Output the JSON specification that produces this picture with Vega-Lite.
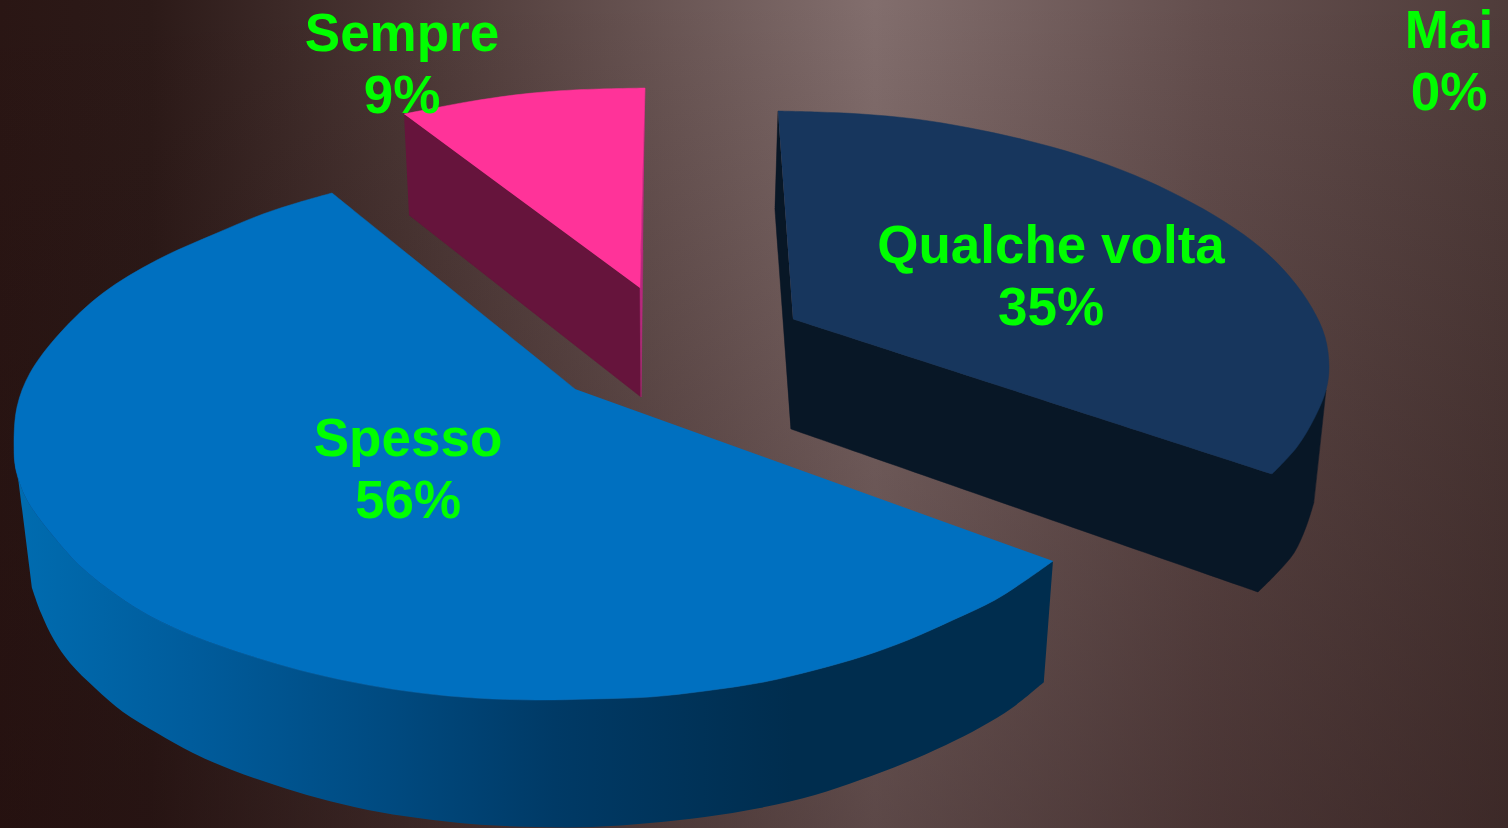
{"$schema":"https://vega.github.io/schema/vega-lite/v6.json","width":1508,"height":828,"padding":0,"autosize":{"type":"none"},"background":"#2a1614","view":{"stroke":null},
"datasets":{
"canvas":[{"x0":0,"x1":1508,"y0":0,"y1":828}],
"slices":[{"slice":"Spesso","percent":56,"lx":408,"ly":439.5},{"slice":"Qualche volta","percent":35,"lx":1051,"ly":246.5},{"slice":"Sempre","percent":9,"lx":402,"ly":34.5},{"slice":"Mai","percent":0,"lx":1449,"ly":31.5}],
"outline":[
{"p":"qside","i":0,"x":778,"y":111},{"p":"qside","i":1,"x":775,"y":210},{"p":"qside","i":1.5,"x":775,"y":210},{"p":"qside","i":2,"x":791,"y":429},{"p":"qside","i":2.5,"x":791,"y":429},{"p":"qside","i":3,"x":1258,"y":592},{"p":"qside","i":3.5,"x":1258,"y":592},{"p":"qside","i":4,"x":1277,"y":573},{"p":"qside","i":5,"x":1294,"y":553},{"p":"qside","i":6,"x":1306,"y":527},{"p":"qside","i":7,"x":1314,"y":502},{"p":"qside","i":7.5,"x":1314,"y":502},{"p":"qside","i":8,"x":1326,"y":390},{"p":"qside","i":8.5,"x":1326,"y":390},{"p":"qside","i":9,"x":1272,"y":474},{"p":"qside","i":9.5,"x":1272,"y":474},{"p":"qside","i":10,"x":793,"y":319},
{"p":"qtop","i":0,"x":778,"y":111},{"p":"qtop","i":1,"x":817,"y":112},{"p":"qtop","i":2,"x":861,"y":114},{"p":"qtop","i":3,"x":915,"y":119},{"p":"qtop","i":4,"x":970,"y":128},{"p":"qtop","i":5,"x":1025,"y":140},{"p":"qtop","i":6,"x":1079,"y":155},{"p":"qtop","i":7,"x":1134,"y":175},{"p":"qtop","i":8,"x":1181,"y":197},{"p":"qtop","i":9,"x":1225,"y":222},{"p":"qtop","i":10,"x":1261,"y":248},{"p":"qtop","i":11,"x":1290,"y":277},{"p":"qtop","i":12,"x":1312,"y":308},{"p":"qtop","i":13,"x":1325,"y":337},{"p":"qtop","i":14,"x":1329,"y":367},{"p":"qtop","i":15,"x":1326,"y":390},{"p":"qtop","i":16,"x":1315,"y":417},{"p":"qtop","i":17,"x":1297,"y":447},{"p":"qtop","i":18,"x":1272,"y":474},{"p":"qtop","i":18.5,"x":1272,"y":474},{"p":"qtop","i":19,"x":793,"y":319},
{"p":"sside","i":0,"x":404,"y":114},{"p":"sside","i":1,"x":640,"y":288},{"p":"sside","i":2,"x":641,"y":397},{"p":"sside","i":3,"x":409,"y":215},
{"p":"ssliver","i":0,"x":645,"y":88},{"p":"ssliver","i":1,"x":640,"y":288},{"p":"ssliver","i":2,"x":641,"y":397},{"p":"ssliver","i":3,"x":643,"y":250},
{"p":"stop","i":0,"x":404,"y":114},{"p":"stop","i":1,"x":440,"y":107},{"p":"stop","i":2,"x":473,"y":101},{"p":"stop","i":3,"x":523,"y":94},{"p":"stop","i":4,"x":573,"y":90},{"p":"stop","i":5,"x":645,"y":88},{"p":"stop","i":5.5,"x":645,"y":88},{"p":"stop","i":6,"x":640,"y":288},
{"p":"bside","i":0,"x":14,"y":445},{"p":"bside","i":1,"x":16,"y":470},{"p":"bside","i":2,"x":27,"y":500},{"p":"bside","i":3,"x":54,"y":537},{"p":"bside","i":4,"x":79,"y":565},{"p":"bside","i":5,"x":107,"y":588},{"p":"bside","i":6,"x":143,"y":612},{"p":"bside","i":7,"x":179,"y":630},{"p":"bside","i":8,"x":218,"y":645},{"p":"bside","i":9,"x":264,"y":660},{"p":"bside","i":10,"x":311,"y":673},{"p":"bside","i":11,"x":368,"y":685},{"p":"bside","i":12,"x":421,"y":693},{"p":"bside","i":13,"x":475,"y":698},{"p":"bside","i":14,"x":536,"y":700},{"p":"bside","i":15,"x":592,"y":699},{"p":"bside","i":16,"x":650,"y":697},{"p":"bside","i":17,"x":705,"y":691},{"p":"bside","i":18,"x":764,"y":682},{"p":"bside","i":19,"x":815,"y":670},{"p":"bside","i":20,"x":864,"y":656},{"p":"bside","i":21,"x":908,"y":640},{"p":"bside","i":22,"x":953,"y":620},{"p":"bside","i":23,"x":995,"y":600},{"p":"bside","i":24,"x":1029,"y":578},{"p":"bside","i":25,"x":1053,"y":561},{"p":"bside","i":25.5,"x":1053,"y":561},{"p":"bside","i":26,"x":1044,"y":682},{"p":"bside","i":26.5,"x":1044,"y":682},{"p":"bside","i":27,"x":1012,"y":708},{"p":"bside","i":28,"x":981,"y":727},{"p":"bside","i":29,"x":946,"y":745},{"p":"bside","i":30,"x":905,"y":763},{"p":"bside","i":31,"x":860,"y":780},{"p":"bside","i":32,"x":815,"y":795},{"p":"bside","i":33,"x":760,"y":808},{"p":"bside","i":34,"x":705,"y":817},{"p":"bside","i":35,"x":650,"y":823},{"p":"bside","i":36,"x":592,"y":827},{"p":"bside","i":37,"x":536,"y":827},{"p":"bside","i":38,"x":471,"y":824},{"p":"bside","i":39,"x":418,"y":818},{"p":"bside","i":40,"x":368,"y":810},{"p":"bside","i":41,"x":318,"y":798},{"p":"bside","i":42,"x":275,"y":785},{"p":"bside","i":43,"x":232,"y":770},{"p":"bside","i":44,"x":193,"y":753},{"p":"bside","i":45,"x":157,"y":733},{"p":"bside","i":46,"x":123,"y":712},{"p":"bside","i":47,"x":95,"y":688},{"p":"bside","i":48,"x":70,"y":663},{"p":"bside","i":49,"x":54,"y":640},{"p":"bside","i":50,"x":41,"y":613},{"p":"bside","i":51,"x":32,"y":588},{"p":"bside","i":51.5,"x":32,"y":588},{"p":"bside","i":53,"x":14,"y":445},
{"p":"btop","i":0,"x":575,"y":389},{"p":"btop","i":0.5,"x":575,"y":389},{"p":"btop","i":1,"x":332,"y":193},{"p":"btop","i":1.5,"x":332,"y":193},{"p":"btop","i":2,"x":300,"y":202},{"p":"btop","i":3,"x":263,"y":214},{"p":"btop","i":4,"x":217,"y":233},{"p":"btop","i":5,"x":157,"y":260},{"p":"btop","i":6,"x":103,"y":293},{"p":"btop","i":7,"x":60,"y":333},{"p":"btop","i":8,"x":30,"y":373},{"p":"btop","i":9,"x":17,"y":407},{"p":"btop","i":10,"x":14,"y":445},{"p":"btop","i":11,"x":16,"y":470},{"p":"btop","i":12,"x":27,"y":500},{"p":"btop","i":13,"x":54,"y":537},{"p":"btop","i":14,"x":79,"y":565},{"p":"btop","i":15,"x":107,"y":588},{"p":"btop","i":16,"x":143,"y":612},{"p":"btop","i":17,"x":179,"y":630},{"p":"btop","i":18,"x":218,"y":645},{"p":"btop","i":19,"x":264,"y":660},{"p":"btop","i":20,"x":311,"y":673},{"p":"btop","i":21,"x":368,"y":685},{"p":"btop","i":22,"x":421,"y":693},{"p":"btop","i":23,"x":475,"y":698},{"p":"btop","i":24,"x":536,"y":700},{"p":"btop","i":25,"x":592,"y":699},{"p":"btop","i":26,"x":650,"y":697},{"p":"btop","i":27,"x":705,"y":691},{"p":"btop","i":28,"x":764,"y":682},{"p":"btop","i":29,"x":815,"y":670},{"p":"btop","i":30,"x":864,"y":656},{"p":"btop","i":31,"x":908,"y":640},{"p":"btop","i":32,"x":953,"y":620},{"p":"btop","i":33,"x":995,"y":600},{"p":"btop","i":34,"x":1029,"y":578},{"p":"btop","i":35,"x":1053,"y":561}
]},
"layer":[
{"data":{"name":"canvas"},"mark":{"type":"rect","clip":true,"fill":{"gradient":"linear","x1":0,"y1":0,"x2":1,"y2":0,"stops":[{"offset":0,"color":"#2a1614"},{"offset":0.1,"color":"#2c1a18"},{"offset":0.27,"color":"#4b3735"},{"offset":0.58,"color":"#826e6d"},{"offset":0.8,"color":"#644f4e"},{"offset":1,"color":"#4f3c3a"}]}},"encoding":{"x":{"field":"x0","type":"quantitative","scale":{"domain":[0,1508],"nice":false},"axis":null},"x2":{"field":"x1"},"y":{"field":"y0","type":"quantitative","scale":{"domain":[828,0],"nice":false},"axis":null},"y2":{"field":"y1"}}},
{"data":{"name":"canvas"},"mark":{"type":"rect","clip":true,"fill":{"gradient":"linear","x1":0,"y1":0,"x2":0,"y2":1,"stops":[{"offset":0,"color":"rgba(30,10,10,0)"},{"offset":0.5,"color":"rgba(30,10,10,0.2)"},{"offset":1,"color":"rgba(30,10,10,0.38)"}]}},"encoding":{"x":{"field":"x0","type":"quantitative","scale":{"domain":[0,1508],"nice":false},"axis":null},"x2":{"field":"x1"},"y":{"field":"y0","type":"quantitative","scale":{"domain":[828,0],"nice":false},"axis":null},"y2":{"field":"y1"}}},
{"data":{"name":"outline"},"transform":[{"filter":"datum.p==='qside'"}],"mark":{"type":"line","interpolate":"catmull-rom","fill":"#081726","stroke":"#081726","strokeWidth":0.5},"encoding":{"x":{"field":"x","type":"quantitative","scale":{"domain":[0,1508],"nice":false},"axis":null},"y":{"field":"y","type":"quantitative","scale":{"domain":[828,0],"nice":false},"axis":null},"order":{"field":"i"}}},
{"data":{"name":"outline"},"transform":[{"filter":"datum.p==='qtop'"}],"mark":{"type":"line","interpolate":"catmull-rom","fill":"#17365d","stroke":"#17365d","strokeWidth":0.5},"encoding":{"x":{"field":"x","type":"quantitative","scale":{"domain":[0,1508],"nice":false},"axis":null},"y":{"field":"y","type":"quantitative","scale":{"domain":[828,0],"nice":false},"axis":null},"order":{"field":"i"}}},
{"data":{"name":"outline"},"transform":[{"filter":"datum.p==='sside'"}],"mark":{"type":"line","fill":"#66143c","stroke":"#66143c","strokeWidth":0.5},"encoding":{"x":{"field":"x","type":"quantitative","scale":{"domain":[0,1508],"nice":false},"axis":null},"y":{"field":"y","type":"quantitative","scale":{"domain":[828,0],"nice":false},"axis":null},"order":{"field":"i"}}},
{"data":{"name":"outline"},"transform":[{"filter":"datum.p==='ssliver'"}],"mark":{"type":"line","fill":"#b8287e","stroke":"#b8287e","strokeWidth":0.5},"encoding":{"x":{"field":"x","type":"quantitative","scale":{"domain":[0,1508],"nice":false},"axis":null},"y":{"field":"y","type":"quantitative","scale":{"domain":[828,0],"nice":false},"axis":null},"order":{"field":"i"}}},
{"data":{"name":"outline"},"transform":[{"filter":"datum.p==='stop'"}],"mark":{"type":"line","interpolate":"catmull-rom","fill":"#ff3399","stroke":"#ff3399","strokeWidth":0.5},"encoding":{"x":{"field":"x","type":"quantitative","scale":{"domain":[0,1508],"nice":false},"axis":null},"y":{"field":"y","type":"quantitative","scale":{"domain":[828,0],"nice":false},"axis":null},"order":{"field":"i"}}},
{"data":{"name":"outline"},"transform":[{"filter":"datum.p==='bside'"}],"mark":{"type":"line","interpolate":"catmull-rom","strokeWidth":0,"fill":{"gradient":"linear","x1":0,"y1":0,"x2":1,"y2":0,"stops":[{"offset":0,"color":"#006cb0"},{"offset":0.17,"color":"#005c9c"},{"offset":0.36,"color":"#004a80"},{"offset":0.52,"color":"#003a66"},{"offset":0.75,"color":"#002d4e"},{"offset":1,"color":"#002d4e"}]}},"encoding":{"x":{"field":"x","type":"quantitative","scale":{"domain":[0,1508],"nice":false},"axis":null},"y":{"field":"y","type":"quantitative","scale":{"domain":[828,0],"nice":false},"axis":null},"order":{"field":"i"}}},
{"data":{"name":"outline"},"transform":[{"filter":"datum.p==='btop'"}],"mark":{"type":"line","interpolate":"catmull-rom","fill":"#0070c0","stroke":"#0070c0","strokeWidth":0.5},"encoding":{"x":{"field":"x","type":"quantitative","scale":{"domain":[0,1508],"nice":false},"axis":null},"y":{"field":"y","type":"quantitative","scale":{"domain":[828,0],"nice":false},"axis":null},"order":{"field":"i"}}},
{"data":{"name":"slices"},"transform":[{"calculate":"datum.slice+'\\n'+datum.percent+'%'","as":"label"}],"mark":{"type":"text","font":"Liberation Sans","fontWeight":"bold","fontSize":53,"color":"#00ff00","align":"center","baseline":"middle","lineBreak":"\n","lineHeight":62},"encoding":{"x":{"field":"lx","type":"quantitative","scale":{"domain":[0,1508],"nice":false},"axis":null},"y":{"field":"ly","type":"quantitative","scale":{"domain":[828,0],"nice":false},"axis":null},"text":{"field":"label"}}}
]}
